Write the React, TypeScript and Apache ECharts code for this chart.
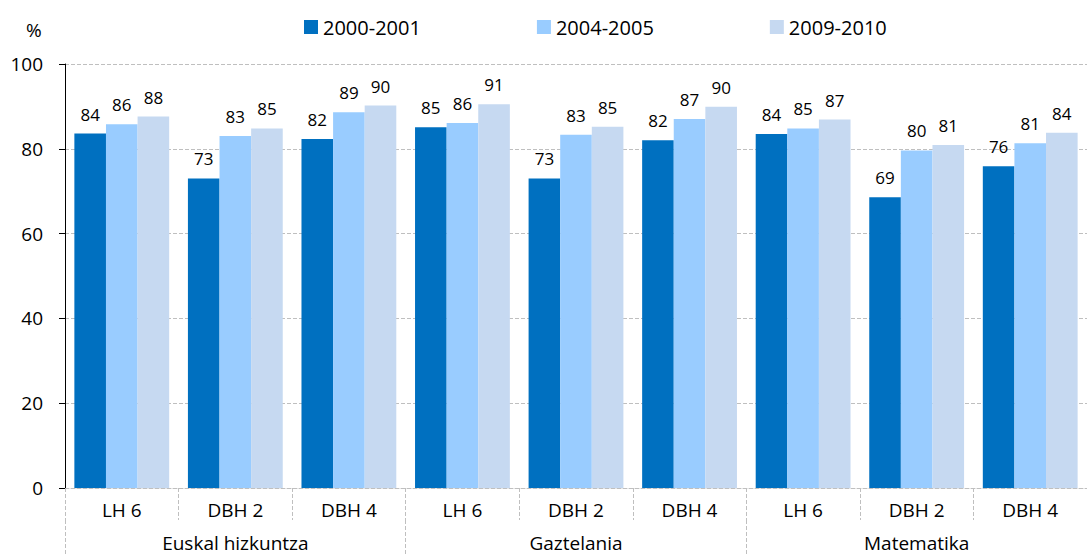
import React, { useEffect, useRef } from "react";
import * as echarts from "echarts";

const subCategories = ["LH 6", "DBH 2", "DBH 4", "LH 6", "DBH 2", "DBH 4", "LH 6", "DBH 2", "DBH 4"];
const groups = ["Euskal hizkuntza", "Gaztelania", "Matematika"];
const seriesNames = ["2000-2001", "2004-2005", "2009-2010"];
const values2000 = [83.6, 73.0, 82.3, 85.1, 73.0, 82.0, 83.5, 68.6, 75.9];
const values2004 = [85.8, 83.0, 88.6, 86.1, 83.3, 87.0, 84.8, 79.6, 81.3];
const values2009 = [87.6, 84.8, 90.2, 90.5, 85.2, 89.9, 86.9, 80.9, 83.8];
const yTicks = [0, 20, 40, 60, 80, 100];
const colors = ["#0070C0", "#99CCFF", "#C6D9F1"];

const FONT = "'Open Sans', sans-serif";

export default function App() {
  const ref = useRef<HTMLDivElement>(null);
  useEffect(() => {
    if (!ref.current) return;
    const chart = echarts.init(ref.current, null, { renderer: "svg" });
    const allValues = [values2000, values2004, values2009];
    chart.setOption({
      animation: false,
      textStyle: { fontFamily: FONT },
      legend: {
        data: seriesNames,
        left: 299,
        top: 12,
        icon: "rect",
        itemWidth: 14,
        itemHeight: 14,
        itemGap: 116,
        textStyle: { fontFamily: FONT, fontSize: 20, color: "#000" },
      },
      graphic: [
        {
          type: "text",
          left: 26,
          top: 20,
          style: { text: "%", font: `19px ${FONT}`, fill: "#000" },
        },
      ],
      grid: { left: 65, right: -14, top: 64, bottom: 67 },
      xAxis: [
        {
          type: "category",
          data: subCategories,
          position: "bottom",
          axisLine: { show: true, lineStyle: { color: "#BFBFBF", type: "dashed", width: 1 } },
          axisTick: {
            show: true,
            interval: 0,
            length: 32,
            lineStyle: { color: "#BFBFBF", type: "dashed", width: 1 },
          },
          axisLabel: { interval: 0, margin: 12, fontFamily: FONT, fontSize: 19, color: "#000" },
        },
        {
          type: "category",
          data: groups,
          position: "bottom",
          offset: 32,
          axisLine: { show: false },
          axisTick: {
            show: true,
            interval: 0,
            length: 40,
            lineStyle: { color: "#BFBFBF", type: "dashed", width: 1 },
          },
          axisLabel: { interval: 0, margin: 13, fontFamily: FONT, fontSize: 19, color: "#000" },
        },
      ],
      yAxis: {
        type: "value",
        min: yTicks[0],
        max: yTicks[yTicks.length - 1],
        interval: 20,
        axisLine: { show: true, lineStyle: { color: "#000", width: 1 } },
        axisTick: { show: true, length: 6, lineStyle: { color: "#000" } },
        axisLabel: { margin: 22, fontFamily: FONT, fontSize: 19, color: "#000" },
        splitLine: { show: true, lineStyle: { color: "#BFBFBF", type: "dashed", width: 1 } },
      },
      series: seriesNames.map((name, i) => ({
        name,
        type: "bar",
        xAxisIndex: 0,
        data: allValues[i],
        barGap: "0%",
        barCategoryGap: "16.5%",
        itemStyle: { color: colors[i] },
        label: {
          show: true,
          position: "top",
          distance: 11,
          fontFamily: FONT,
          fontSize: 17,
          color: "#000",
          formatter: (p: any) => String(Math.round(p.value)),
        },
      })),
    });
    return () => chart.dispose();
  }, []);
  return (
    <div
      ref={ref}
      style={{ position: "fixed", left: 0, top: 0, width: 1087, height: 555, background: "#fff" }}
    />
  );
}
